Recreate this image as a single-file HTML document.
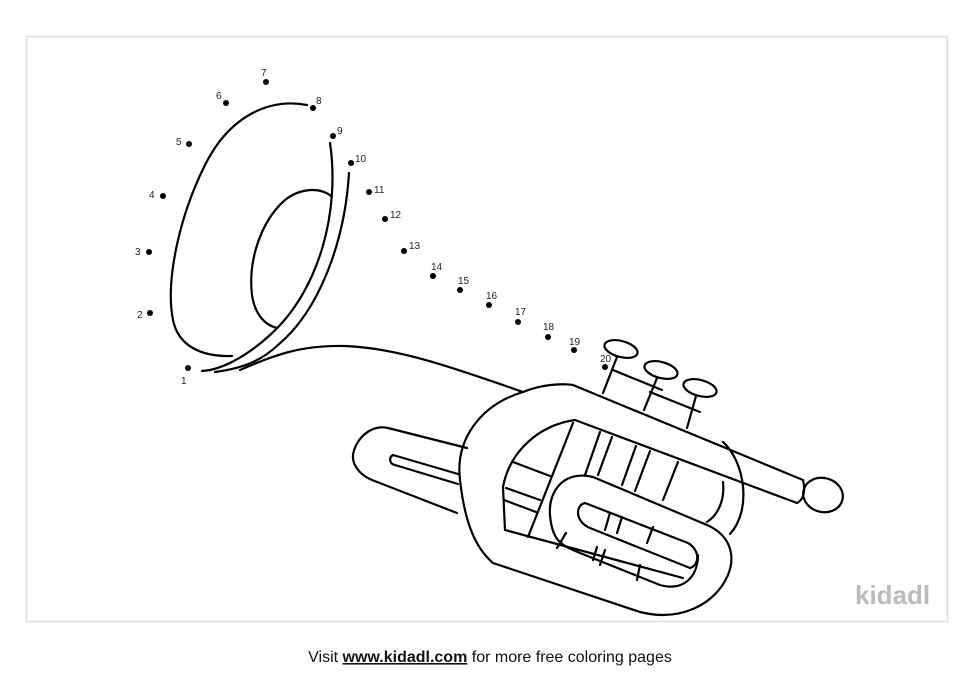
<!DOCTYPE html>
<html><head><meta charset="utf-8"><style>
body{margin:0;background:#fff;width:980px;height:691px;overflow:hidden;font-family:"Liberation Sans",sans-serif}
</style></head><body>
<svg width="980" height="691" viewBox="0 0 980 691" xmlns="http://www.w3.org/2000/svg">
<rect x="26.5" y="36.5" width="921" height="585" fill="#fff" stroke="#ddd" stroke-width="1.5"/>
<g fill="none" stroke="#000" stroke-width="2.2" stroke-linecap="round" stroke-linejoin="round">
<!-- bell -->
<path d="M307,105 C270,98 230,115 205,165 C180,215 165,280 173,320 C178,345 200,357 232,356"/>
<path d="M330,143 C340,210 320,290 270,335 C245,358 220,370 202,371"/>
<path d="M349,173 C345,240 320,310 278,345 C262,360 245,368 215,372"/>
<path d="M331,196 C320,187 300,188 285,200 C260,222 248,262 252,295 C255,315 265,325 277,328"/>
<!-- lead pipe -->
<path d="M240,370 C275,355 300,345 345,346 C400,348 460,370 523,392"/>
<!-- body outer loop -->
<path d="M523,392 C540,385 560,383 573,385 L803,480"/>
<path d="M575,420 L797,503"/>
<path d="M803,480 C806,492 803,500 797,503"/>
<ellipse cx="823" cy="495" rx="20" ry="17" transform="rotate(15 823 495)"/>
<path d="M523,392 C480,405 455,440 460,480 C464,515 472,545 493,563 L640,612 C680,622 715,605 728,575 C736,555 730,535 707,525"/>
<!-- inner hole -->
<path d="M575,420 C540,425 510,450 503,487 L505,530 L683,578"/>
<!-- S loop -->
<path d="M707,525 L593,477 C565,470 548,490 550,515 C552,540 560,545 580,553 L660,585 C685,592 698,575 698,555"/>
<path d="M585,503 L688,543 C700,550 700,565 690,568 L590,528 C575,522 575,505 585,503 Z"/>
<!-- left slide -->
<path d="M467,448 L388,428 C370,424 355,440 353,455 C352,465 360,475 372,480 L457,513"/>
<path d="M393,455 L458,474 M395,465 L458,484 M393,455 C388,458 390,464 395,465"/>
<!-- valve casing bump -->
<path d="M723,442 C745,462 752,510 730,534"/>
<path d="M723,482 C725,500 718,515 707,522"/>
<!-- internal valve lines -->
<path d="M573,423 L528,537 M600,432 L585,475 M612,437 L598,475 M636,446 L622,485 M650,451 L635,491 M678,462 L663,500"/>
<path d="M513,462 L550,476 M506,488 L540,500 M504,500 L536,512"/>
<path d="M610,513 L605,530 M622,517 L617,533 M653,527 L647,543"/>
<path d="M566,533 L557,548 M597,547 L593,560 M605,550 L600,565 M640,565 L637,580"/>
<!-- valves -->
<ellipse cx="621" cy="349" rx="17" ry="8" transform="rotate(15 621 349)"/>
<ellipse cx="661" cy="370" rx="17" ry="8" transform="rotate(15 661 370)"/>
<ellipse cx="700" cy="388" rx="17" ry="8" transform="rotate(15 700 388)"/>
<path d="M617,357 L603,393 M613,370 L662,390 M657,378 L644,410 M696,396 L687,428 M650,392 L700,412"/>
</g>
<g fill="#000">
<circle cx="188" cy="368" r="3"/><circle cx="150" cy="313" r="3"/><circle cx="149" cy="252" r="3"/><circle cx="163" cy="196" r="3"/><circle cx="189" cy="144" r="3"/><circle cx="226" cy="103" r="3"/><circle cx="266" cy="82" r="3"/><circle cx="313" cy="108" r="3"/><circle cx="333" cy="136" r="3"/><circle cx="351" cy="163" r="3"/><circle cx="369" cy="192" r="3"/><circle cx="385" cy="219" r="3"/><circle cx="404" cy="251" r="3"/><circle cx="433" cy="276" r="3"/><circle cx="460" cy="290" r="3"/><circle cx="489" cy="305" r="3"/><circle cx="518" cy="322" r="3"/><circle cx="548" cy="337" r="3"/><circle cx="574" cy="350" r="3"/><circle cx="605" cy="367" r="3"/>
</g>
<g font-size="10" fill="#222" font-family="Liberation Sans,sans-serif">
<text x="181" y="384">1</text><text x="137" y="318">2</text><text x="135" y="255">3</text><text x="149" y="198">4</text><text x="176" y="145">5</text><text x="216" y="99">6</text><text x="261" y="76">7</text><text x="316" y="104">8</text><text x="337" y="134">9</text><text x="355" y="162">10</text><text x="374" y="193">11</text><text x="390" y="218">12</text><text x="409" y="249">13</text><text x="431" y="270">14</text><text x="458" y="284">15</text><text x="486" y="299">16</text><text x="515" y="315">17</text><text x="543" y="330">18</text><text x="569" y="345">19</text><text x="600" y="362">20</text>
</g>
<text x="855" y="604" font-size="26" fill="#bbb" font-weight="bold" font-family="Liberation Sans,sans-serif">kidadl</text>
<text x="490" y="662" font-size="16" fill="#111" text-anchor="middle" font-family="Liberation Sans,sans-serif">Visit <tspan font-weight="bold" text-decoration="underline">www.kidadl.com</tspan> for more free coloring pages</text>
</svg>
</body></html>
